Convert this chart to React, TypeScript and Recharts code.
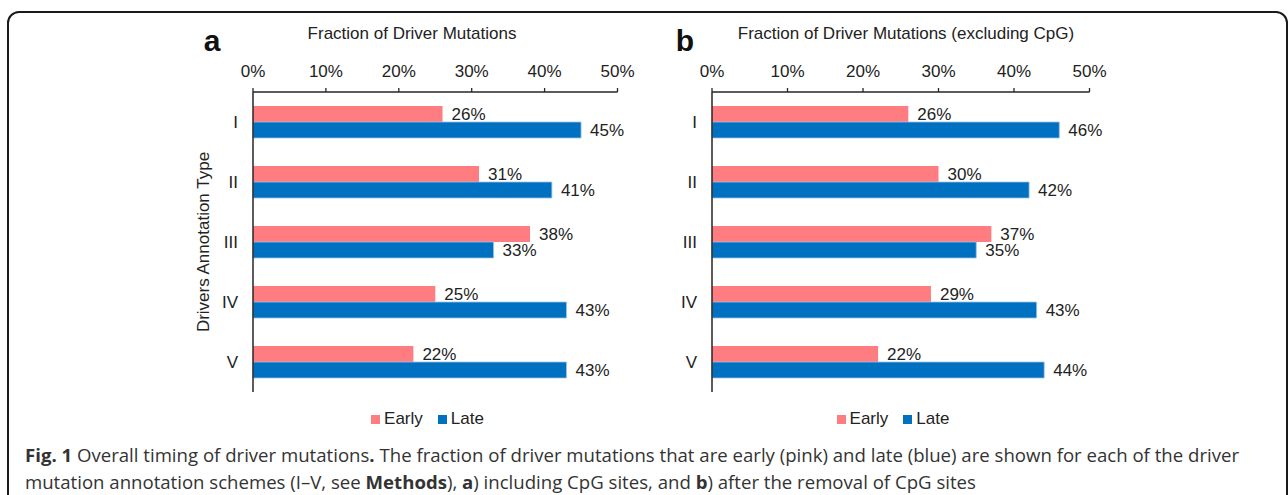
import React from 'react';
import { BarChart, Bar, XAxis, YAxis, Legend, LabelList } from 'recharts';

// annotation schemes I-V
const types = ['I', 'II', 'III', 'IV', 'V'];

// panel a: including CpG sites (% of driver mutations)
const earlyA = [26, 31, 38, 25, 22];
const lateA = [45, 41, 33, 43, 43];

// panel b: excluding CpG sites
const earlyB = [26, 30, 37, 29, 22];
const lateB = [46, 42, 35, 43, 44];

const pctTicks = [0, 10, 20, 30, 40, 50];

const PINK = '#FF7C80';
const BLUE = '#0070C0';
const AXIS = '#262626';
const FONT = '"Liberation Sans", Arial, sans-serif';

const toRows = (early: number[], late: number[]) =>
  types.map((t, i) => ({ type: t, Early: early[i], Late: late[i] }));

const dataA = toRows(earlyA, lateA);
const dataB = toRows(earlyB, lateB);

interface PanelProps {
  data: { type: string; Early: number; Late: number }[];
  left: number;
  marginRight: number;
  plotWidth: number;
  yLabel?: string;
}

function Panel({ data, left, marginRight, plotWidth, yLabel }: PanelProps) {
  return (
    <div style={{ position: 'absolute', left, top: 20 }}>
      <BarChart
        width={560}
        height={440}
        data={data}
        layout="vertical"
        margin={{ top: 32, right: marginRight, bottom: 68, left: 0 }}
        barSize={16}
        barGap={0}
        style={{ fontFamily: FONT }}
      >
        <XAxis
          type="number"
          orientation="top"
          domain={[0, 50]}
          ticks={pctTicks}
          tickFormatter={(v: number) => `${v}%`}
          height={40}
          tickSize={4}
          tickMargin={11}
          axisLine={{ stroke: AXIS, strokeWidth: 1.3 }}
          tickLine={{ stroke: AXIS, strokeWidth: 1.3 }}
          tick={{ fill: '#222', fontSize: 17 }}
          interval={0}
        />
        <YAxis
          type="category"
          dataKey="type"
          width={102}
          tickSize={0}
          tickMargin={15}
          axisLine={{ stroke: AXIS, strokeWidth: 1.5 }}
          tickLine={false}
          tick={{ fill: '#222', fontSize: 17 }}
          label={
            yLabel
              ? {
                  value: yLabel,
                  angle: -90,
                  position: 'insideLeft',
                  offset: 52,
                  style: { textAnchor: 'middle', fill: '#222', fontSize: 17 },
                }
              : undefined
          }
        />
        <Legend
          verticalAlign="middle"
          align="center"
          iconType="square"
          iconSize={9}
          wrapperStyle={{ top: 389, left: 102, width: plotWidth, fontSize: 17 }}
          formatter={(value: string) => (
            <span style={{ color: '#222', marginRight: 5 }}>{value}</span>
          )}
        />
        <Bar dataKey="Early" fill={PINK} isAnimationActive={false}>
          <LabelList
            dataKey="Early"
            position="right"
            offset={9}
            formatter={(v: number) => `${v}%`}
            style={{ fill: '#222', fontSize: 17 }}
          />
        </Bar>
        <Bar dataKey="Late" fill={BLUE} stroke="#9DC3E6" strokeWidth={0.8} isAnimationActive={false}>
          <LabelList
            dataKey="Late"
            position="right"
            offset={9}
            formatter={(v: number) => `${v}%`}
            style={{ fill: '#222', fontSize: 17 }}
          />
        </Bar>
      </BarChart>
    </div>
  );
}

const titleStyle: React.CSSProperties = {
  position: 'absolute',
  fontFamily: FONT,
  fontSize: 17,
  color: '#222',
  whiteSpace: 'nowrap',
  transform: 'translateX(-50%)',
};

const letterStyle: React.CSSProperties = {
  position: 'absolute',
  fontFamily: FONT,
  fontSize: 30,
  fontWeight: 'bold',
  color: '#111',
  transform: 'translateX(-50%)',
};

export default function App() {
  return (
    <div
      style={{
        position: 'fixed',
        left: 0,
        top: 0,
        width: 1288,
        height: 495,
        overflow: 'hidden',
        background: '#fff',
      }}
    >
      <div
        style={{
          position: 'absolute',
          left: 7,
          top: 11,
          width: 1277,
          height: 600,
          border: '2px solid #1a1a1a',
          borderRadius: 12,
        }}
      />

      <div style={{ ...letterStyle, left: 212, top: 24 }}>a</div>
      <div style={{ ...titleStyle, left: 412, top: 24 }}>Fraction of Driver Mutations</div>
      <div style={{ ...letterStyle, left: 685, top: 24 }}>b</div>
      <div style={{ ...titleStyle, left: 906, top: 24 }}>Fraction of Driver Mutations (excluding CpG)</div>

      <Panel data={dataA} left={151} marginRight={93.5} plotWidth={364} yLabel="Drivers Annotation Type" />
      <Panel data={dataB} left={610} marginRight={80.5} plotWidth={377} />

      <div
        style={{
          position: 'absolute',
          left: 25,
          top: 441,
          fontFamily: '"Open Sans", sans-serif',
          fontSize: 18.6,
          lineHeight: '27px',
          color: '#333',
          whiteSpace: 'nowrap',
        }}
      >
        <b>Fig. 1</b> Overall timing of driver mutations<b>.</b> The fraction of driver mutations that are early (pink)
        and late (blue) are shown for each of the driver
        <br />
        mutation annotation schemes (I–V, see <b>Methods</b>), <b>a</b>) including CpG sites, and <b>b</b>) after the
        removal of CpG sites
      </div>
    </div>
  );
}
